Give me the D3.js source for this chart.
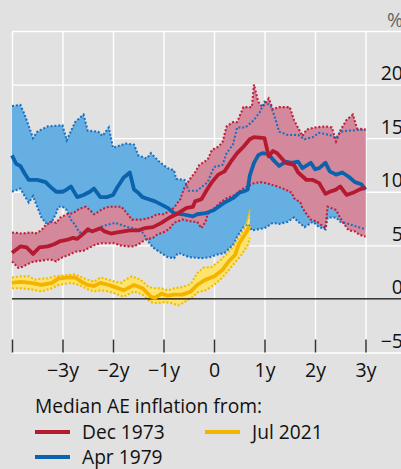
<!DOCTYPE html>
<html>
<head>
<meta charset="utf-8">
<script src="https://cdn.jsdelivr.net/npm/d3@7"></script>
<style>
  body { margin: 0; background: #e1e1e1; }
  svg { display: block; font-family: "Open Sans", "Noto Sans", sans-serif; }
</style>
</head>
<body>
<script>
var width = 401, height = 469;

// months relative to the start date, inflation in %
var yearTicks = [-48, -36, -24, -12, 0, 12, 24, 36];
var yearLabels = ["", "\u22123y", "\u22122y", "\u22121y", "0", "1y", "2y", "3y"];
var pctTicks = [-5, 0, 5, 10, 15, 20, 25];

var aprMed = [[-48,13.4],[-47,12.6],[-46,12.4],[-45,11.7],[-44,11.1],[-42,11.1],[-40,10.9],[-39,10.5],[-37.5,10.0],[-36,10.0],[-35,10.2],[-34,10.5],[-32.5,9.5],[-31,9.7],[-29.5,10.0],[-28.5,10.3],[-27,9.5],[-25.5,9.5],[-24,9.7],[-23,10.4],[-21.5,11.3],[-20,11.8],[-19,10.2],[-18,9.9],[-17,9.5],[-15.5,9.3],[-14,9.1],[-12.5,8.8],[-11,8.5],[-9.5,8.0],[-7.5,7.9],[-5,7.7],[-4,7.9],[-2,8.0],[0,8.3],[2.5,9.0],[4.5,9.4],[6,9.9],[7.5,10.1],[8,10.2],[8.5,11.5],[9.5,12.7],[10.5,13.4],[11.5,13.6],[13,13.5],[14,13.0],[15.5,12.4],[17,12.8],[18.5,12.7],[20,12.8],[21,12.2],[23,12.7],[24,12.1],[25,12.2],[26.5,12.7],[27.5,11.9],[29,11.6],[30.5,11.8],[32,11.4],[33.5,10.9],[35,10.7],[36,10.2]];
var aprHi = [[-48,18.0],[-46,18.1],[-45,17.2],[-43,15.0],[-42,15.6],[-39.5,16.1],[-36,16.2],[-35,14.8],[-33,16.5],[-31,17.2],[-30,15.7],[-27.5,15.6],[-26.5,15.2],[-25,16.0],[-24,14.1],[-21,14.5],[-19,14.4],[-18,13.4],[-16,13.1],[-15,13.6],[-13,12.8],[-11,12.2],[-9.5,12.0],[-9,11.2],[-7,11.1],[-6,10.1],[-4,10.1],[-1.5,10.9],[0,12.3],[2,12.5],[3,13.6],[4.5,14.4],[5.5,16.0],[7.5,16.0],[9.5,16.7],[11,17.5],[12,18.4],[13.5,18.0],[14.5,16.9],[15.5,15.6],[17.5,15.3],[20,15.3],[21.5,14.9],[23.5,15.1],[25,15.5],[27.5,15.3],[29,15.0],[30,15.6],[32,15.7],[36,15.8]];
var aprLo = [[-48,10.0],[-46,10.3],[-45,9.6],[-44,9.0],[-43,9.6],[-42,8.6],[-41,7.6],[-40,7.1],[-38.5,7.2],[-37.5,8.0],[-37,8.6],[-36,8.6],[-35,8.3],[-34,7.4],[-33,6.9],[-32,6.2],[-30,6.3],[-28.5,6.3],[-27,6.7],[-25.5,6.9],[-23.5,7.1],[-20.5,6.7],[-19,6.6],[-17,6.2],[-15.5,5.3],[-14.5,4.8],[-13,4.4],[-11,3.9],[-9.5,3.8],[-8.5,4.3],[-6,3.9],[-3,3.8],[-1,3.9],[0.5,4.1],[2.5,4.3],[4.5,5.0],[5.5,5.8],[7,6.7],[8,7.0],[9,6.4],[12,6.6],[14,7.1],[15.5,7.0],[17.5,7.2],[19,7.6],[20,7.2],[21.5,6.7],[23.5,7.2],[25,6.7],[26.5,6.5],[27,7.6],[29,7.6],[30,7.2],[32,7.0],[33.5,6.8],[36,6.5]];

var decMed = [[-48,4.3],[-46,4.9],[-44.5,4.8],[-43,4.2],[-41.5,4.8],[-39.5,4.9],[-38,5.1],[-36.5,5.4],[-35,5.5],[-33.5,5.7],[-32.5,5.6],[-31,6.1],[-30,6.5],[-29,6.3],[-27,6.6],[-26,6.3],[-24.5,6.1],[-23,6.2],[-21.5,6.3],[-20,6.4],[-18,6.4],[-16.5,6.6],[-14.5,6.7],[-12.5,7.1],[-10.5,7.6],[-8.5,8.0],[-6.5,8.5],[-5,8.6],[-4.5,9.1],[-3,9.3],[-1.5,10.3],[-0.5,10.9],[1,11.6],[2.5,11.9],[4,12.8],[5.5,13.6],[7,14.2],[8.5,14.9],[9.5,15.1],[12,15.0],[13,13.3],[14,13.8],[15,13.6],[17,12.7],[19,12.5],[20,11.8],[22,11.1],[23.5,11.1],[25,10.8],[26.5,9.8],[27.5,10.0],[29,10.2],[30,10.5],[31.5,9.7],[33,9.9],[34.5,10.2],[36,10.4]];
var decHi = [[-48,6.2],[-45.5,6.1],[-43.5,6.2],[-42.5,6.1],[-41,6.4],[-40,6.9],[-38.5,7.2],[-37.5,7.1],[-36.5,7.6],[-35,7.9],[-33.5,8.0],[-32,8.4],[-30.5,8.6],[-29.5,8.3],[-28.5,7.9],[-28,8.0],[-26.5,8.4],[-25,8.6],[-23.5,8.6],[-22,8.6],[-20.5,7.9],[-19.5,7.4],[-17,7.4],[-15,7.6],[-13.5,7.9],[-12,7.9],[-11,8.1],[-9.5,8.5],[-9,8.8],[-8,9.3],[-7.5,9.9],[-7,10.4],[-5.5,11.3],[-4.5,11.8],[-3.5,12.5],[-1.5,13.0],[-0.5,13.9],[1,14.2],[2,14.6],[3,16.1],[4.5,16.5],[5.5,16.5],[7,17.9],[9,17.9],[9.5,20.0],[10.5,18.4],[11.5,17.9],[13,18.7],[14,17.7],[15.5,17.9],[18,17.9],[19,16.7],[21,15.2],[22,15.8],[24,16.0],[26.5,16.1],[28,16.0],[29,14.7],[30,15.7],[31.5,16.7],[33,17.2],[34,15.9],[36,15.8]];
var decLo = [[-48,3.5],[-46.5,2.9],[-45.5,3.0],[-43.5,3.4],[-42.5,3.5],[-40.5,3.6],[-39,3.7],[-37.5,3.5],[-36.5,3.8],[-34.5,4.1],[-33,4.4],[-31,4.5],[-29.5,4.8],[-28.5,5.0],[-27,5.2],[-25,5.2],[-23.5,5.2],[-22.5,5.0],[-20.5,4.9],[-19,4.9],[-17.5,5.2],[-16.5,5.5],[-14.5,5.7],[-13.5,6.0],[-11.5,6.3],[-10.5,6.6],[-9.5,7.1],[-7.5,7.4],[-5,7.2],[-4,7.2],[-3,6.6],[-2,7.2],[-1.5,7.9],[-0.5,8.3],[0.5,8.6],[1.5,9.0],[3,9.4],[5,9.7],[6.5,10.2],[8,10.5],[9.5,10.8],[11,10.9],[12.5,10.8],[15,10.5],[17,10.2],[18.5,9.9],[19,9.4],[20.5,9.0],[21,8.5],[22,7.9],[23,7.4],[24.5,7.2],[25.5,6.9],[26.5,6.6],[27,8.6],[29,8.3],[30.5,7.2],[32,6.4],[33.5,6.3],[34.5,6.0],[36,5.8]];

var julMed = [[-48,1.5],[-46,1.6],[-43.5,1.5],[-41,1.3],[-38.5,1.5],[-37,1.9],[-34.5,2.0],[-33,2.0],[-31.5,1.6],[-30,1.3],[-28.5,1.2],[-27,1.5],[-25,1.3],[-23.5,1.1],[-21.5,0.8],[-20,1.1],[-19,1.3],[-17,1.0],[-15,0.2],[-14,0.1],[-12.5,0.5],[-11,0.3],[-9.5,0.4],[-7.5,0.4],[-5.5,0.7],[-4,1.3],[-2,1.8],[0,2.1],[2,2.7],[3.5,3.5],[5,4.1],[6,5.2],[7.5,6.1],[8.5,6.8]];
var julHi = [[-48,2.0],[-46,2.1],[-44,2.1],[-42.5,1.8],[-41,1.9],[-39.5,1.9],[-38,2.1],[-35.5,2.2],[-33,2.3],[-32,2.1],[-30,1.8],[-28.5,1.6],[-27,2.0],[-25,1.8],[-23.5,1.6],[-22,1.5],[-21,1.8],[-19.5,2.1],[-17.5,1.8],[-15.5,1.1],[-14,1.0],[-12.5,1.0],[-11,0.8],[-9.5,1.0],[-7.5,1.1],[-5.5,1.4],[-4,2.4],[-2.5,2.9],[-0.5,3.0],[1.5,3.6],[3,4.2],[4.5,4.8],[5.5,5.5],[7,6.4],[8,7.4],[8.5,8.3]];
var julLo = [[-48,1.0],[-46,1.0],[-43.5,0.9],[-41,0.7],[-38.5,1.0],[-37,1.3],[-34,1.5],[-32,1.3],[-30,0.9],[-28.5,0.7],[-27,0.8],[-25,0.7],[-23.5,0.5],[-21.5,0.2],[-20.5,0.4],[-19,0.7],[-17,0.4],[-15,-0.3],[-13.5,-0.4],[-11.5,-0.3],[-10,-0.4],[-8.5,-0.6],[-7,-0.3],[-5,0.2],[-4,0.6],[-2,0.8],[0,1.3],[2,2.0],[3.5,2.7],[5,3.4],[6.5,4.1],[8,5.0],[8.5,5.7]];

var series = [
    {name: "Dec 1973", med: decMed, hi: decHi, lo: decLo, line: "#b51a30", fill: "#d4889b", dot: "#c01f38"},
    {name: "Apr 1979", med: aprMed, hi: aprHi, lo: aprLo, line: "#0b63ad", fill: "#66afe2", dot: "#1a6fc0"},
    {name: "Jul 2021", med: julMed, hi: julHi, lo: julLo, line: "#f5b300", fill: "#fde46c", dot: "#f2bb00"}
];
var bandOrder = [1, 0, 2];   // blue band under the pink one
var lineOrder = [1, 0, 2];

var x = d3.scaleLinear().domain([-48, 36]).range([12, 365.5]);
var y = d3.scaleLinear().domain([-5, 25]).range([352.5, 31]);

var svg = d3.select('body').append('svg')
    .attr('width', width)
    .attr('height', height);

// grid
svg.append('g')
    .attr('class', 'hgrid')
    .attr('transform', 'translate(' + x(-48) + ',0)')
    .call(d3.axisRight(y).tickValues(pctTicks).tickSize(width - x(-48)).tickFormat(''))
    .call(g => g.select('.domain').remove())
    .selectAll('line').attr('stroke', '#fff').attr('stroke-width', 1.4);

svg.append('g')
    .attr('class', 'vgrid')
    .attr('transform', 'translate(0,' + y(-5) + ')')
    .call(d3.axisBottom(x).tickValues(yearTicks).tickSize(-(y(-5) - y(25))).tickFormat(''))
    .call(g => g.select('.domain').remove())
    .selectAll('line').attr('stroke', '#fff').attr('stroke-width', 1.4);

var line = d3.line()
    .x(function(d) { return x(d[0]); })
    .y(function(d) { return y(d[1]); });

// bands: upper edge forward, lower edge back
bandOrder.forEach(function(i) {
    var s = series[i];
    svg.append('path')
        .attr('d', line(s.hi.concat(s.lo.slice().reverse())) + 'Z')
        .attr('fill', s.fill)
        .attr('stroke', 'none');
});

bandOrder.forEach(function(i) {
    var s = series[i];
    [s.hi, s.lo].forEach(function(edge) {
        svg.append('path')
            .attr('d', line(edge))
            .attr('fill', 'none')
            .attr('stroke', s.dot)
            .attr('stroke-width', 2.1)
            .attr('stroke-dasharray', '2,1.9');
    });
});

// zero line
svg.append('line')
    .attr('x1', x(-48)).attr('x2', width)
    .attr('y1', y(0)).attr('y2', y(0))
    .attr('stroke', '#000')
    .attr('stroke-width', 1.3);

lineOrder.forEach(function(i) {
    var s = series[i];
    svg.append('path')
        .attr('d', line(s.med))
        .attr('fill', 'none')
        .attr('stroke', s.line)
        .attr('stroke-width', 3.8)
        .attr('stroke-linejoin', 'round');
});

// x axis ticks and labels
var xAxis = svg.append('g')
    .attr('transform', 'translate(0,' + (y(-5) - 13) + ')')
    .call(d3.axisBottom(x).tickValues(yearTicks).tickSize(13).tickPadding(11)
        .tickFormat(function(d, i) { return yearLabels[i]; }));
xAxis.select('.domain').remove();
xAxis.selectAll('line').attr('stroke', '#333').attr('stroke-width', 1.5);
xAxis.selectAll('text')
    .attr('font-size', '19.5px')
    .attr('font-family', '"Open Sans", sans-serif')
    .attr('fill', '#111');

// y labels sit above their grid line, right edge of the picture cuts them
var yAxis = svg.append('g')
    .attr('transform', 'translate(403,0)')
    .call(d3.axisRight(y).tickValues(pctTicks).tickSize(0).tickPadding(0)
        .tickFormat(function(d) { return d == 25 ? '%' : (d < 0 ? '\u2212' + (-d) : d); }));
yAxis.select('.domain').remove();
yAxis.selectAll('text')
    .attr('text-anchor', 'end')
    .attr('dy', '-5px')
    .attr('font-size', '19.5px')
    .attr('font-family', '"Open Sans", sans-serif')
    .attr('fill', '#111');
yAxis.selectAll('text').filter(function(d) { return d == 25; }).attr('fill', '#666');

// legend
var legend = svg.append('g').attr('font-family', '"Open Sans", sans-serif').attr('font-size', '19.2px');
legend.append('text')
    .attr('x', 35).attr('y', 413)
    .attr('fill', '#111')
    .text('Median AE inflation from:');

var legPos = [[35, 432], [35, 457], [205, 432]];
series.forEach(function(s, i) {
    var p = legPos[i];
    legend.append('line')
        .attr('x1', p[0]).attr('x2', p[0] + 35)
        .attr('y1', p[1]).attr('y2', p[1])
        .attr('stroke', s.line)
        .attr('stroke-width', 4);
    legend.append('text')
        .attr('x', p[0] + 47).attr('y', p[1] + 6.5)
        .attr('fill', '#111')
        .text(s.name);
});
</script>
</body>
</html>
